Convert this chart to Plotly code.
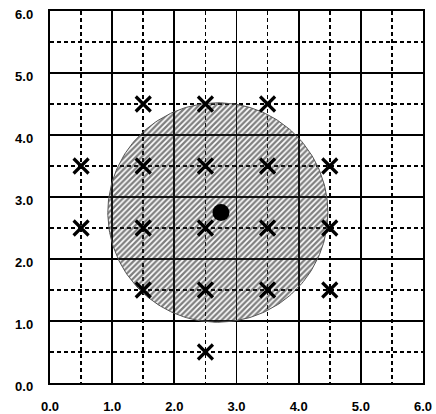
import numpy as np
import plotly.graph_objects as go

# X-marked sample points
cross_x = [1.5, 2.5, 3.5, 0.5, 1.5, 2.5, 3.5, 4.5, 0.5, 1.5, 2.5, 3.5, 4.5, 1.5, 2.5, 3.5, 4.5, 2.5]
cross_y = [4.5, 4.5, 4.5, 3.5, 3.5, 3.5, 3.5, 3.5, 2.5, 2.5, 2.5, 2.5, 2.5, 1.5, 1.5, 1.5, 1.5, 0.5]

# centre point
center_x = [2.75]
center_y = [2.75]

# shaded disk (centre and radius)
disk_cx = 2.7
disk_cy = 2.75
disk_r = 1.77

tick_vals = [0, 1, 2, 3, 4, 5, 6]
tick_text = ["0.0", "1.0", "2.0", "3.0", "4.0", "5.0", "6.0"]

theta = np.linspace(0, 2 * np.pi, 241)
disk_x = disk_cx + disk_r * np.cos(theta)
disk_y = disk_cy + disk_r * np.sin(theta)

fig = go.Figure()
fig.add_trace(go.Scatter(
    x=disk_x, y=disk_y, mode="lines", fill="toself",
    line=dict(color="#555555", width=1),
    fillcolor="rgba(0,0,0,0)",
    fillpattern=dict(shape="/", fgcolor="#000000", bgcolor="rgba(255,255,255,0.1)",
                     size=4, solidity=0.58, fillmode="overlay"),
    hoverinfo="skip", showlegend=False,
))
fig.add_trace(go.Scatter(
    x=cross_x, y=cross_y, mode="markers",
    marker=dict(symbol="x-thin", size=15, line=dict(color="black", width=3.2), color="black"),
    showlegend=False,
))
fig.add_trace(go.Scatter(
    x=center_x, y=center_y, mode="markers",
    marker=dict(symbol="circle", size=17, color="black"),
    showlegend=False,
))

font = dict(family="Liberation Sans, Arial, sans-serif", size=13, color="black", weight="bold")
axis_common = dict(
    range=[0, 6], tickvals=tick_vals, ticktext=tick_text,
    showgrid=True, gridcolor="black", gridwidth=1.8,
    showline=True, linecolor="black", linewidth=2.2, mirror=True,
    zeroline=False, ticks="outside", tickcolor="rgba(0,0,0,0)",
    tickfont=font, fixedrange=True, automargin=False, ticklabeloverflow="allow",
    minor=dict(dtick=0.5, tick0=0, showgrid=True, gridcolor="black", gridwidth=1.6,
               griddash="4px,3px", ticks=""),
)
fig.update_xaxes(**axis_common, ticklen=10)
fig.update_yaxes(**axis_common, ticklen=12, ticklabelshift=3)

fig.update_layout(
    width=436, height=414,
    margin=dict(l=50, r=13, t=11, b=31),
    plot_bgcolor="white", paper_bgcolor="white",
    showlegend=False,
)
fig.write_html(
    "out.html",
    config={"displayModeBar": False, "staticPlot": True},
    post_script="document.body.style.margin='0';document.body.style.overflow='hidden';",
)
